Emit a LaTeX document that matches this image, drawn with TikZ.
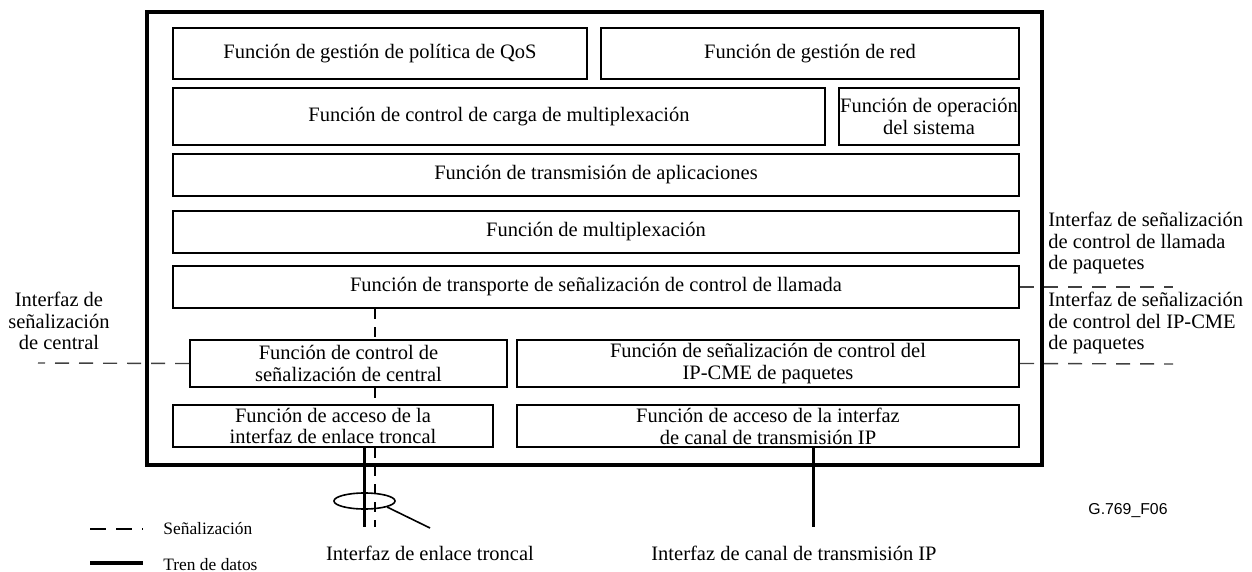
\documentclass[tikz,border=0pt]{standalone}
\usepackage{fontspec}
\setmainfont{Liberation Serif}
\newfontfamily\figfont{Liberation Sans}
\usepackage{tikz}
\usetikzlibrary{shapes.geometric}
\tikzstyle{funcbox}=[draw,rectangle,line width=1pt,inner sep=0pt,align=center,font=\fontsize{10.25}{10.9}\selectfont]
\tikzstyle{iflabel}=[inner sep=0pt,font=\fontsize{10.25}{10.9}\selectfont]
\tikzstyle{legendtext}=[inner sep=0pt,anchor=west,font=\fontsize{8.7}{10}\selectfont]
\tikzstyle{signalling} = [draw,line width=1.4pt,dash pattern=on 5pt off 4pt]
\tikzstyle{sidesignal} = [draw,line width=0.7pt,black!75,dash pattern=on 7pt off 5pt]
\tikzstyle{datapath} = [draw,line width=1.5pt]

\begin{document}
\begin{tikzpicture}[x=0.5pt,y=-0.5pt]
    \useasboundingbox (0,0) rectangle (1252,572);
    % outer frame
    \draw[line width=2pt] (147,12) rectangle (1042,465);

    % function blocks
    \foreach \pos/\name/\w/\h/\txt in {{(380,53.5)/qos/207/25.5/Función de gestión de política de QoS},
        {(810,53.5)/red/209/25.5/Función de gestión de red},
        {(499,116.5)/carga/326/28.5/Función de control de carga de multiplexación},
        {(929,116.5)/oper/90/28.5/Función de operación\\del sistema},
        {(596,175)/apps/423/21/Función de transmisión de aplicaciones},
        {(596,232)/mux/423/21/Función de multiplexación},
        {(596,287)/transp/423/21/Función de transporte de señalización de control de llamada},
        {(348.5,363.5)/ctrlc/158.5/23.5/Función de control de\\señalización de central},
        {(768,363.5)/ipcme/251/23.5/Función de señalización de control del\\IP-CME de paquetes},
        {(333,426)/troncal/160/21/Función de acceso de la\\interfaz de enlace troncal},
        {(768,426)/ipacc/251/21/Función de acceso de la interfaz\\de canal de transmisión IP}}
        \node[funcbox,minimum width=\w pt,minimum height=\h pt] (\name) at \pos {\txt};

    % free ends of the connectors
    \coordinate (trdata) at (364,527);
    \coordinate (trsig) at (375,527);
    \coordinate (ipdata) at (813,527);
    \coordinate (centralend) at (38,363);
    \coordinate (callend) at (1173,287);
    \coordinate (cmeend) at (1173,364);
    \coordinate (pointer) at (430,528);

    % signalling path through the trunk side
    \path[signalling] (trsig |- transp.south) -- (trsig |- ctrlc.north);
    \path[signalling] (trsig |- ctrlc.south) -- (trsig |- troncal.north);
    \path[signalling] (trsig |- troncal.south) -- (trsig);
    \path[datapath] (trdata |- troncal.south) -- (trdata);
    \path[datapath] (ipdata |- ipacc.south) -- (ipdata);

    % interface signalling lines
    \path[sidesignal] (ctrlc.west) -- (centralend);
    \path[sidesignal] (transp.east) -- (callend);
    \path[sidesignal] (ipcme.east) -- (cmeend);

    % trunk bundle
    \node[draw,ellipse,line width=0.8pt,minimum width=30.5pt,minimum height=8pt,inner sep=0pt] (bundle) at (364.5,501) {};
    \draw[line width=0.8pt] (bundle.-15) -- (pointer);

    % interface labels
    \node[iflabel,align=center] (lcentral) at (59,321) {Interfaz de\\señalización\\de central};
    \node[iflabel,align=left,anchor=west] (lcall) at (1048,243) {Interfaz de señalización\\de control de llamada\\de paquetes};
    \node[iflabel,align=left,anchor=west] (lcme) at (1048,323) {Interfaz de señalización\\de control del IP-CME\\de paquetes};
    \node[iflabel] (ltrunk) at (430,553) {Interfaz de enlace troncal};
    \node[iflabel] (lip) at (794,553) {Interfaz de canal de transmisión IP};
    \node[inner sep=0pt,font=\figfont\fontsize{7.9}{9}\selectfont] (figid) at (1128,511) {G.769\_F06};

    % legend
    \coordinate (ksig0) at (90,529);
    \coordinate (ksig1) at (143,529);
    \coordinate (kdat0) at (90,563);
    \coordinate (kdat1) at (143,563);
    \draw[line width=0.6pt,dash pattern=on 8pt off 5pt] (ksig0) -- (ksig1);
    \draw[line width=2pt] (kdat0) -- (kdat1);
    \node[legendtext] (ksig) at (163,529) {Señalización};
    \node[legendtext] (kdat) at (163,565) {Tren de datos};
\end{tikzpicture}
\end{document}
